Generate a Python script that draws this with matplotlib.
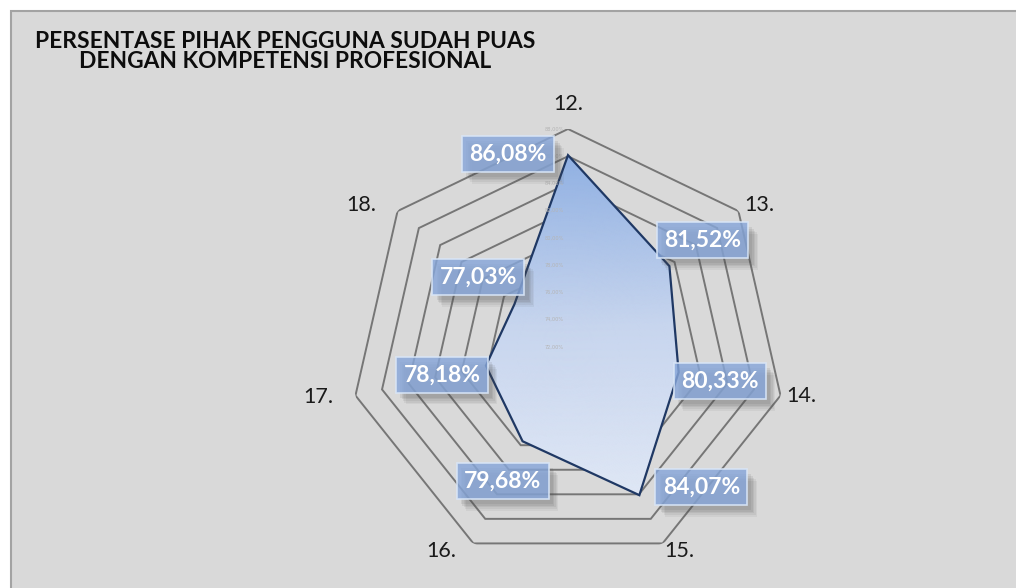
import numpy as np
import matplotlib
matplotlib.use("Agg")
import matplotlib.pyplot as plt
import matplotlib.patheffects as pe
from matplotlib.patches import Rectangle
from matplotlib.colors import LinearSegmentedColormap, Normalize

# ---- data ----
categories = ["12.", "13.", "14.", "15.", "16.", "17.", "18."]
values = [86.08, 81.52, 80.33, 84.07, 79.68, 78.18, 77.03]
value_labels = ["86,08%", "81,52%", "80,33%", "84,07%", "79,68%", "78,18%", "77,03%"]
r_min, r_max, r_step = 72, 88, 2
title_lines = ["PERSENTASE PIHAK PENGGUNA SUDAH PUAS", "DENGAN KOMPETENSI PROFESIONAL"]

# ---- style / layout (pixel offsets) ----
label_offsets_px = [(-60, -1), (33, -26), (41, 9), (62, -8), (-20, 40), (-44, 9), (-36, -27)]
cat_offsets_px = [(0, -25), (21, -6), (21, 0), (17, 8), (-32, 8), (-37, 1), (-36, -6)]

W, H = 1016, 588
DPI = 100
fig = plt.figure(figsize=(W / DPI, H / DPI), dpi=DPI)
fig.patch.set_facecolor("white")
PT = 72 / DPI  # points per pixel

fig.patches.append(Rectangle((10.5 / W, -0.01), 1.1, (H - 10.5) / H + 0.01,
                             transform=fig.transFigure, facecolor="#d9d9d9",
                             edgecolor="#a3a3a3", lw=1.5, zorder=-5))

cx, cy, R = 568, 347, 218
ax = fig.add_axes([(cx - R) / W, (H - cy - R) / H, 2 * R / W, 2 * R / H], projection="polar")
ax.set_zorder(3)
ax.set_theta_zero_location("N")
ax.set_theta_direction(-1)
ax.set_ylim(r_min, r_max)
ax.patch.set_visible(False)
ax.spines["polar"].set_visible(False)
ax.grid(False)
ax.set_xticks([])
ax.set_yticks([])

n = len(categories)
theta = np.arange(n) * 2 * np.pi / n
theta_c = np.append(theta, theta[0])

# polygon gridlines
for g in range(r_min + r_step, r_max + 1, r_step):
    ax.plot(theta_c, [g] * (n + 1), color="#767676", lw=1.4, zorder=1, solid_joinstyle="miter")

# data polygon
vals_c = np.append(values, values[0])
poly = ax.fill(theta_c, vals_c, facecolor="none", edgecolor="#1f3864", lw=1.6, zorder=4,
               joinstyle="miter")[0]

# gradient fill clipped to polygon
tt = np.linspace(0, 2 * np.pi, 361)
rr = np.linspace(r_min, r_max, 40)
T, RR = np.meshgrid(tt, rr)
Cv = (RR - r_min) * np.cos(T)
cmap = LinearSegmentedColormap.from_list("g", ["#dfe7f5", "#c7d5ee", "#90b0e2"])
mesh = ax.pcolormesh(T, RR, Cv, cmap=cmap, norm=Normalize(-11, 14.2), shading="gouraud", zorder=3)
mesh.set_clip_path(poly)

# tiny radial tick labels
for g in range(r_min, r_max + 1, r_step):
    ax.annotate(f"{g},00%", (0, g), xytext=(-3, 0), textcoords="offset points",
                ha="right", va="center", fontsize=3.6, color="#b4b4b4", zorder=5)

# category labels
for th, cat, (dx, dy) in zip(theta, categories, cat_offsets_px):
    ax.annotate(cat, (th, r_max), xytext=(dx * PT, -dy * PT), textcoords="offset points",
                ha="center", va="center", fontsize=15.5, color="#1a1a1a",
                family=["Lato", "DejaVu Sans"], annotation_clip=False)

# data labels with soft shadow
LFS = 16.5
shadow = [pe.SimplePatchShadow(offset=(o, -o * 1.2), shadow_rgbFace=(0.3, 0.3, 0.3), alpha=a)
          for o, a in [(7, 0.07), (6, 0.08), (5, 0.09), (4, 0.1), (3, 0.1)]] + [pe.Normal()]
for th, v, lab, (dx, dy) in zip(theta, values, value_labels, label_offsets_px):
    t = ax.annotate(lab, (th, v), xytext=(dx * PT, -dy * PT), textcoords="offset points",
                    ha="center", va="center", fontsize=LFS, fontweight="bold", color="white",
                    family=["Lato", "DejaVu Sans"], zorder=7, annotation_clip=False,
                    bbox=dict(boxstyle="square,pad=0.32", facecolor=(0.53, 0.65, 0.85, 0.82),
                              edgecolor=(0.85, 0.9, 0.97, 0.9), lw=1.2))
    t.get_bbox_patch().set_path_effects(shadow)

# title
for i, line in enumerate(title_lines):
    fig.text(285.5 / W, 1 - (48 + 20.5 * i) / H, line, ha="center", va="baseline", fontsize=16.4,
             fontweight="bold", family=["Lato", "DejaVu Sans"], color="#0d0d0d")

fig.savefig("out.png", dpi=DPI)
